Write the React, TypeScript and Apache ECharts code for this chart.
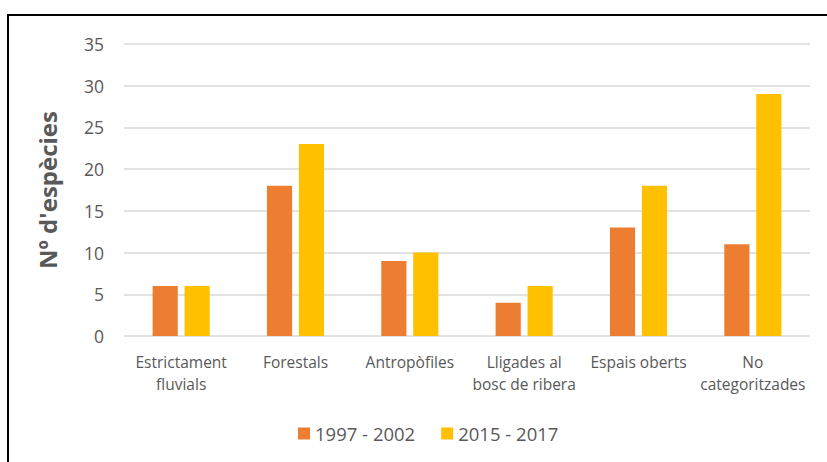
import React, { useEffect, useRef } from "react";
import * as echarts from "echarts";

const categories = [
  "Estrictament\nfluvials",
  "Forestals",
  "Antropòfiles",
  "Lligades al\nbosc de ribera",
  "Espais oberts",
  "No\ncategoritzades",
];
const seriesNames = ["1997 - 2002", "2015 - 2017"];
const values1997 = [6, 18, 9, 4, 13, 11];
const values2015 = [6, 23, 10, 6, 18, 29];
const yTicks = { min: 0, max: 35, interval: 5 };
const yAxisTitle = "Nº d'espècies";

const FONT = "'Open Sans', sans-serif";
const TEXT = "#595959";

export default function App() {
  const ref = useRef<HTMLDivElement>(null);
  useEffect(() => {
    if (!ref.current) return;
    const chart = echarts.init(ref.current, null, { renderer: "svg" });
    chart.setOption({
      animation: false,
      backgroundColor: "#ffffff",
      textStyle: { fontFamily: FONT },
      graphic: [
        {
          type: "rect",
          shape: { x: 8, y: 15, width: 840, height: 470 },
          style: { fill: "none", stroke: "#000", lineWidth: 2 },
          silent: true,
        },
      ],
      grid: { left: 124, right: 17, top: 44, bottom: 126 },
      legend: {
        data: seriesNames,
        top: 419,
        left: 293,
        itemWidth: 12,
        itemHeight: 12,
        itemGap: 26,
        icon: "rect",
        textStyle: { color: TEXT, fontSize: 18.5, fontFamily: FONT },
      },
      xAxis: {
        type: "category",
        data: categories,
        axisLine: { show: false },
        axisTick: { show: false },
        axisLabel: {
          color: TEXT,
          fontSize: 15.5,
          fontFamily: FONT,
          lineHeight: 22,
          margin: 15,
          interval: 0,
        },
      },
      yAxis: {
        type: "value",
        min: yTicks.min,
        max: yTicks.max,
        interval: yTicks.interval,
        name: yAxisTitle,
        nameLocation: "middle",
        nameGap: 65,
        nameTextStyle: { color: TEXT, fontSize: 24, fontWeight: "bold", fontFamily: FONT },
        axisLabel: { color: TEXT, fontSize: 17.5, fontFamily: FONT, margin: 20 },
        splitLine: { lineStyle: { color: "#D9D9D9", width: 1.5 } },
        axisLine: { show: false },
        axisTick: { show: false },
      },
      series: [
        {
          name: seriesNames[0],
          type: "bar",
          data: values1997,
          barWidth: "22%",
          barGap: "27%",
          itemStyle: { color: "#ED7D31" },
        },
        {
          name: seriesNames[1],
          type: "bar",
          data: values2015,
          barWidth: "22%",
          barGap: "27%",
          itemStyle: { color: "#FFC000" },
        },
      ],
    });
    return () => chart.dispose();
  }, []);
  return (
    <div
      ref={ref}
      style={{ position: "absolute", left: 0, top: 0, width: 827, height: 462 }}
    />
  );
}
